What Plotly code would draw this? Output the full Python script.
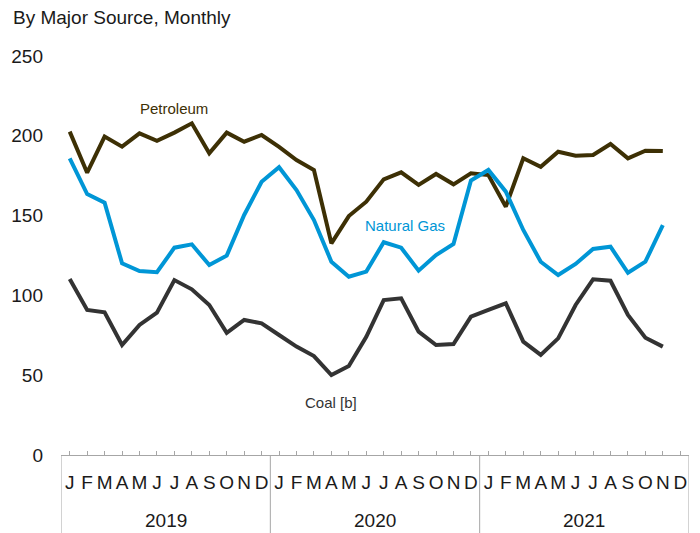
import plotly.graph_objects as go

# Monthly CO2 emissions by major source (million metric tons), Jan 2019 - Nov 2021
years = ["2019", "2020", "2021"]
month_letters = ["J", "F", "M", "A", "M", "J", "J", "A", "S", "O", "N", "D"]

petroleum = [202.6, 176.9, 199.5, 193.2, 201.5, 196.9, 202.0, 207.8, 189.0, 202.0, 196.3, 200.5,
             193.0, 184.8, 178.6, 132.6, 149.7, 158.7, 172.7, 177.1, 169.2, 176.1, 169.6, 176.5,
             175.4, 155.6, 185.9, 180.6, 190.0, 187.5, 188.0, 194.9, 185.9, 190.7, 190.5]
natural_gas = [185.9, 163.5, 158.1, 120.1, 115.3, 114.5, 129.9, 132.0, 119.0, 124.9, 150.4, 171.2,
               180.3, 166.0, 147.2, 121.1, 111.7, 114.9, 133.3, 129.9, 115.5, 125.3, 132.2, 172.0,
               178.6, 165.0, 141.0, 121.1, 112.8, 119.7, 129.1, 130.5, 114.2, 121.1, 144.1]
coal = [110.3, 90.9, 89.4, 68.9, 81.5, 89.2, 109.6, 103.8, 94.0, 76.6, 84.6, 82.5,
        75.2, 67.9, 62.0, 50.1, 55.8, 74.1, 97.1, 98.2, 77.3, 68.9, 69.5, 86.7,
        90.9, 95.0, 71.0, 62.7, 73.1, 94.0, 110.1, 109.2, 87.7, 73.5, 67.9]

y_ticks = [0, 50, 100, 150, 200, 250]

series = [
    ("Petroleum", petroleum, "#3d3005", 6.0, 217.4),
    ("Natural Gas", natural_gas, "#0096d6", 19.2, 143.7),
    ("Coal [b]", coal, "#333333", 15.0, 33.2),
]

n_months = len(years) * len(month_letters)
tick_positions = list(range(n_months))
tick_text = month_letters * len(years)

FONT = "Liberation Sans, Arial, sans-serif"
AXIS_GREY = "#a6a6a6"

fig = go.Figure()
annotations = []
for name, values, color, lx, ly in series:
    fig.add_trace(go.Scatter(
        x=list(range(len(values))), y=values, mode="lines", name=name,
        line=dict(color=color, width=4),
    ))
    annotations.append(dict(
        x=lx, y=ly, xref="x", yref="y", text=name, showarrow=False,
        font=dict(family=FONT, size=15, color=color),
        xanchor="center", yanchor="middle",
    ))

# year group labels and dividers beneath the month axis
shapes = []
for k, yr in enumerate(years):
    annotations.append(dict(
        x=k * 12 + 5.5, y=-0.163, xref="x", yref="paper", text=yr, showarrow=False,
        font=dict(family=FONT, size=19, color="#1a1a1a"),
        xanchor="center", yanchor="middle",
    ))
for b in [-0.5, 11.5, 23.5, 35.5]:
    shapes.append(dict(
        type="line", xref="x", yref="paper", x0=b, x1=b, y0=0, y1=-0.2,
        line=dict(color=AXIS_GREY, width=1),
    ))

fig.update_layout(
    width=700, height=533,
    margin=dict(l=61, r=11, t=56, b=78),
    paper_bgcolor="white", plot_bgcolor="white",
    showlegend=False,
    font=dict(family=FONT, color="#1a1a1a"),
    title=dict(
        text="By Major Source, Monthly", x=13 / 700, xanchor="left", xref="container",
        y=1 - 17 / 533, yanchor="middle", yref="container",
        font=dict(family=FONT, size=19, color="#1a1a1a"),
    ),
    annotations=annotations,
    shapes=shapes,
)

fig.update_xaxes(
    range=[-0.5, n_months - 0.5],
    tickmode="array", tickvals=tick_positions, ticktext=tick_text,
    ticks="inside", ticklen=4, tickcolor=AXIS_GREY, tickwidth=1,
    showline=True, linecolor=AXIS_GREY, linewidth=1,
    showgrid=False, zeroline=False,
    tickfont=dict(family="Liberation Sans Narrow, " + FONT, size=19, color="#1a1a1a"),
    ticklabelstandoff=10,
)
fig.update_yaxes(
    range=[0, 250], tickmode="array", tickvals=y_ticks,
    showgrid=False, zeroline=False, showline=False, ticks="",
    tickfont=dict(family=FONT, size=19, color="#1a1a1a"),
    ticklabelstandoff=17,
)

fig.write_html("out.html")
